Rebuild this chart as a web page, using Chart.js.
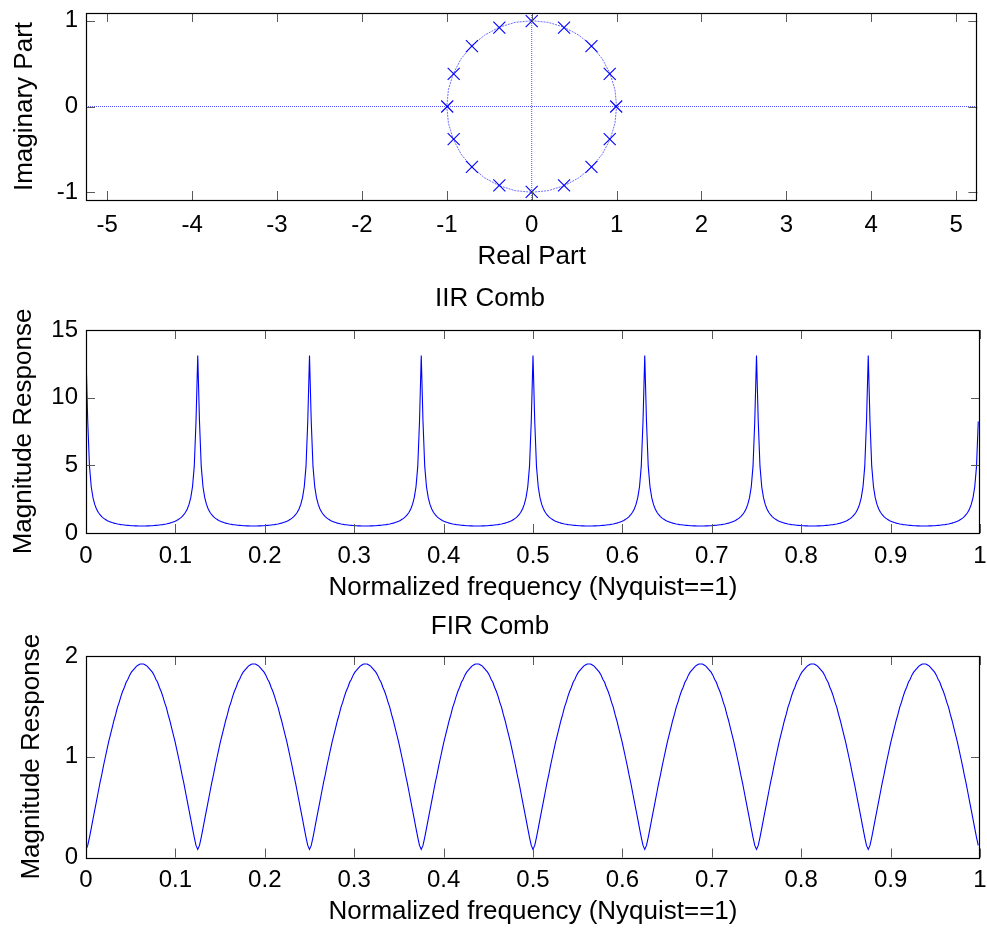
<!DOCTYPE html>
<html>
<head>
<meta charset="utf-8">
<title>Comb filters: pole-zero plot and magnitude responses</title>
<script src="https://cdn.jsdelivr.net/npm/chart.js@4.4.1/dist/chart.umd.min.js"></script>
<style>
  html, body { margin: 0; padding: 0; background: #fff; }
  #wrap { position: relative; width: 987px; height: 931px; overflow: hidden; background: #fff; }
  #wrap canvas { position: absolute; left: 0; }
</style>
</head>
<body>
<div id="wrap">
  <canvas id="pz"  width="987" height="275" style="top:0px"></canvas>
  <canvas id="iir" width="987" height="330" style="top:275px"></canvas>
  <canvas id="fir" width="987" height="326" style="top:605px"></canvas>
</div>
<script>
// ---- pole-zero plot -------------------------------------------------------
const poleRe = [0.995, 0.919, 0.704, 0.381, 0, -0.381, -0.704, -0.919,
                -0.995, -0.919, -0.704, -0.381, 0, 0.381, 0.704, 0.919];
const poleIm = [0, 0.381, 0.704, 0.919, 0.995, 0.919, 0.704, 0.381,
                0, -0.381, -0.704, -0.919, -0.995, -0.919, -0.704, -0.381];

// unit circle outline
const circleRe = [1, 0.981, 0.924, 0.831, 0.707, 0.556, 0.383, 0.195, 0, -0.195, -0.383, -0.556,
                  -0.707, -0.831, -0.924, -0.981, -1, -0.981, -0.924, -0.831, -0.707, -0.556,
                  -0.383, -0.195, 0, 0.195, 0.383, 0.556, 0.707, 0.831, 0.924, 0.981, 1];
const circleIm = [0, 0.195, 0.383, 0.556, 0.707, 0.831, 0.924, 0.981, 1, 0.981, 0.924, 0.831,
                  0.707, 0.556, 0.383, 0.195, 0, -0.195, -0.383, -0.556, -0.707, -0.831,
                  -0.924, -0.981, -1, -0.981, -0.924, -0.831, -0.707, -0.556, -0.383, -0.195, 0];

const reLimits = [-5.25, 5.25];
const imLimits = [-1.09, 1.09];
const reTicks = [-5, -4, -3, -2, -1, 0, 1, 2, 3, 4, 5];
const imTicks = [-1, 0, 1];

// ---- magnitude responses (512-point grid, 0 .. 511/512 of Nyquist) --------
const NFFT = 512;
const freqTicks = [0, 0.1, 0.2, 0.3, 0.4, 0.5, 0.6, 0.7, 0.8, 0.9, 1];
const iirTicks = [0, 5, 10, 15];
const firTicks = [0, 1, 2];

const iirMag = [
13.11,8.24,4.92,3.42,2.61,2.11,1.78,1.53,1.35,1.21,1.10,1.01,0.93,0.87,0.82,0.77,0.73,0.70,0.67,0.65,0.62,0.61,0.59,0.57,0.56,0.55,0.54,0.54,0.53,0.53,0.52,0.52,0.52,0.52,0.52,0.53,0.53,0.54,0.54,0.55,0.56,0.57,0.59,0.61,0.62,0.65,0.67,0.70,0.73,0.77,0.82,0.87,0.93,1.01,1.10,1.21,1.35,1.53,1.78,2.11,2.61,3.42,4.92,8.24,
13.11,8.24,4.92,3.42,2.61,2.11,1.78,1.53,1.35,1.21,1.10,1.01,0.93,0.87,0.82,0.77,0.73,0.70,0.67,0.65,0.62,0.61,0.59,0.57,0.56,0.55,0.54,0.54,0.53,0.53,0.52,0.52,0.52,0.52,0.52,0.53,0.53,0.54,0.54,0.55,0.56,0.57,0.59,0.61,0.62,0.65,0.67,0.70,0.73,0.77,0.82,0.87,0.93,1.01,1.10,1.21,1.35,1.53,1.78,2.11,2.61,3.42,4.92,8.24,
13.11,8.24,4.92,3.42,2.61,2.11,1.78,1.53,1.35,1.21,1.10,1.01,0.93,0.87,0.82,0.77,0.73,0.70,0.67,0.65,0.62,0.61,0.59,0.57,0.56,0.55,0.54,0.54,0.53,0.53,0.52,0.52,0.52,0.52,0.52,0.53,0.53,0.54,0.54,0.55,0.56,0.57,0.59,0.61,0.62,0.65,0.67,0.70,0.73,0.77,0.82,0.87,0.93,1.01,1.10,1.21,1.35,1.53,1.78,2.11,2.61,3.42,4.92,8.24,
13.11,8.24,4.92,3.42,2.61,2.11,1.78,1.53,1.35,1.21,1.10,1.01,0.93,0.87,0.82,0.77,0.73,0.70,0.67,0.65,0.62,0.61,0.59,0.57,0.56,0.55,0.54,0.54,0.53,0.53,0.52,0.52,0.52,0.52,0.52,0.53,0.53,0.54,0.54,0.55,0.56,0.57,0.59,0.61,0.62,0.65,0.67,0.70,0.73,0.77,0.82,0.87,0.93,1.01,1.10,1.21,1.35,1.53,1.78,2.11,2.61,3.42,4.92,8.24,
13.11,8.24,4.92,3.42,2.61,2.11,1.78,1.53,1.35,1.21,1.10,1.01,0.93,0.87,0.82,0.77,0.73,0.70,0.67,0.65,0.62,0.61,0.59,0.57,0.56,0.55,0.54,0.54,0.53,0.53,0.52,0.52,0.52,0.52,0.52,0.53,0.53,0.54,0.54,0.55,0.56,0.57,0.59,0.61,0.62,0.65,0.67,0.70,0.73,0.77,0.82,0.87,0.93,1.01,1.10,1.21,1.35,1.53,1.78,2.11,2.61,3.42,4.92,8.24,
13.11,8.24,4.92,3.42,2.61,2.11,1.78,1.53,1.35,1.21,1.10,1.01,0.93,0.87,0.82,0.77,0.73,0.70,0.67,0.65,0.62,0.61,0.59,0.57,0.56,0.55,0.54,0.54,0.53,0.53,0.52,0.52,0.52,0.52,0.52,0.53,0.53,0.54,0.54,0.55,0.56,0.57,0.59,0.61,0.62,0.65,0.67,0.70,0.73,0.77,0.82,0.87,0.93,1.01,1.10,1.21,1.35,1.53,1.78,2.11,2.61,3.42,4.92,8.24,
13.11,8.24,4.92,3.42,2.61,2.11,1.78,1.53,1.35,1.21,1.10,1.01,0.93,0.87,0.82,0.77,0.73,0.70,0.67,0.65,0.62,0.61,0.59,0.57,0.56,0.55,0.54,0.54,0.53,0.53,0.52,0.52,0.52,0.52,0.52,0.53,0.53,0.54,0.54,0.55,0.56,0.57,0.59,0.61,0.62,0.65,0.67,0.70,0.73,0.77,0.82,0.87,0.93,1.01,1.10,1.21,1.35,1.53,1.78,2.11,2.61,3.42,4.92,8.24,
13.11,8.24,4.92,3.42,2.61,2.11,1.78,1.53,1.35,1.21,1.10,1.01,0.93,0.87,0.82,0.77,0.73,0.70,0.67,0.65,0.62,0.61,0.59,0.57,0.56,0.55,0.54,0.54,0.53,0.53,0.52,0.52,0.52,0.52,0.52,0.53,0.53,0.54,0.54,0.55,0.56,0.57,0.59,0.61,0.62,0.65,0.67,0.70,0.73,0.77,0.82,0.87,0.93,1.01,1.10,1.21,1.35,1.53,1.78,2.11,2.61,3.42,4.92,8.24
];

const firMag = [
0.08,0.12,0.20,0.29,0.38,0.47,0.56,0.65,0.74,0.82,0.91,0.99,1.07,1.15,1.22,1.29,1.36,1.42,1.49,1.54,1.60,1.65,1.69,1.74,1.77,1.81,1.84,1.86,1.88,1.90,1.91,1.92,1.92,1.92,1.91,1.90,1.88,1.86,1.84,1.81,1.77,1.74,1.69,1.65,1.60,1.54,1.49,1.42,1.36,1.29,1.22,1.15,1.07,0.99,0.91,0.82,0.74,0.65,0.56,0.47,0.38,0.29,0.20,0.12,
0.08,0.12,0.20,0.29,0.38,0.47,0.56,0.65,0.74,0.82,0.91,0.99,1.07,1.15,1.22,1.29,1.36,1.42,1.49,1.54,1.60,1.65,1.69,1.74,1.77,1.81,1.84,1.86,1.88,1.90,1.91,1.92,1.92,1.92,1.91,1.90,1.88,1.86,1.84,1.81,1.77,1.74,1.69,1.65,1.60,1.54,1.49,1.42,1.36,1.29,1.22,1.15,1.07,0.99,0.91,0.82,0.74,0.65,0.56,0.47,0.38,0.29,0.20,0.12,
0.08,0.12,0.20,0.29,0.38,0.47,0.56,0.65,0.74,0.82,0.91,0.99,1.07,1.15,1.22,1.29,1.36,1.42,1.49,1.54,1.60,1.65,1.69,1.74,1.77,1.81,1.84,1.86,1.88,1.90,1.91,1.92,1.92,1.92,1.91,1.90,1.88,1.86,1.84,1.81,1.77,1.74,1.69,1.65,1.60,1.54,1.49,1.42,1.36,1.29,1.22,1.15,1.07,0.99,0.91,0.82,0.74,0.65,0.56,0.47,0.38,0.29,0.20,0.12,
0.08,0.12,0.20,0.29,0.38,0.47,0.56,0.65,0.74,0.82,0.91,0.99,1.07,1.15,1.22,1.29,1.36,1.42,1.49,1.54,1.60,1.65,1.69,1.74,1.77,1.81,1.84,1.86,1.88,1.90,1.91,1.92,1.92,1.92,1.91,1.90,1.88,1.86,1.84,1.81,1.77,1.74,1.69,1.65,1.60,1.54,1.49,1.42,1.36,1.29,1.22,1.15,1.07,0.99,0.91,0.82,0.74,0.65,0.56,0.47,0.38,0.29,0.20,0.12,
0.08,0.12,0.20,0.29,0.38,0.47,0.56,0.65,0.74,0.82,0.91,0.99,1.07,1.15,1.22,1.29,1.36,1.42,1.49,1.54,1.60,1.65,1.69,1.74,1.77,1.81,1.84,1.86,1.88,1.90,1.91,1.92,1.92,1.92,1.91,1.90,1.88,1.86,1.84,1.81,1.77,1.74,1.69,1.65,1.60,1.54,1.49,1.42,1.36,1.29,1.22,1.15,1.07,0.99,0.91,0.82,0.74,0.65,0.56,0.47,0.38,0.29,0.20,0.12,
0.08,0.12,0.20,0.29,0.38,0.47,0.56,0.65,0.74,0.82,0.91,0.99,1.07,1.15,1.22,1.29,1.36,1.42,1.49,1.54,1.60,1.65,1.69,1.74,1.77,1.81,1.84,1.86,1.88,1.90,1.91,1.92,1.92,1.92,1.91,1.90,1.88,1.86,1.84,1.81,1.77,1.74,1.69,1.65,1.60,1.54,1.49,1.42,1.36,1.29,1.22,1.15,1.07,0.99,0.91,0.82,0.74,0.65,0.56,0.47,0.38,0.29,0.20,0.12,
0.08,0.12,0.20,0.29,0.38,0.47,0.56,0.65,0.74,0.82,0.91,0.99,1.07,1.15,1.22,1.29,1.36,1.42,1.49,1.54,1.60,1.65,1.69,1.74,1.77,1.81,1.84,1.86,1.88,1.90,1.91,1.92,1.92,1.92,1.91,1.90,1.88,1.86,1.84,1.81,1.77,1.74,1.69,1.65,1.60,1.54,1.49,1.42,1.36,1.29,1.22,1.15,1.07,0.99,0.91,0.82,0.74,0.65,0.56,0.47,0.38,0.29,0.20,0.12,
0.08,0.12,0.20,0.29,0.38,0.47,0.56,0.65,0.74,0.82,0.91,0.99,1.07,1.15,1.22,1.29,1.36,1.42,1.49,1.54,1.60,1.65,1.69,1.74,1.77,1.81,1.84,1.86,1.88,1.90,1.91,1.92,1.92,1.92,1.91,1.90,1.88,1.86,1.84,1.81,1.77,1.74,1.69,1.65,1.60,1.54,1.49,1.42,1.36,1.29,1.22,1.15,1.07,0.99,0.91,0.82,0.74,0.65,0.56,0.47,0.38,0.29,0.20,0.12
];

// ---- shared styling -------------------------------------------------------
const FONT_FAMILY = "'Liberation Sans', Arial, Helvetica, sans-serif";
const tickFont = { family: FONT_FAMILY, size: 24, weight: 'normal' };
const labelFont = { family: FONT_FAMILY, size: 26, weight: 'normal' };
const TICK_LH = tickFont.size * 1.2;
const LABEL_LH = labelFont.size * 1.2;
const BLUE = '#0000ff';
const Y_AXIS_WIDTH = 86;

Chart.defaults.color = '#000';
Chart.defaults.font.family = FONT_FAMILY;

// frame around the plot area with inward tick marks on all four sides
const frameTicks = {
  id: 'frameTicks',
  afterDraw(chart) {
    const { ctx, chartArea: a, scales: { x, y } } = chart;
    const L = 9;
    ctx.save();
    ctx.strokeStyle = '#5a5a5a';
    ctx.lineWidth = 1;
    ctx.beginPath();
    x.ticks.forEach(t => {
      const px = Math.round(x.getPixelForValue(t.value)) + 0.5;
      ctx.moveTo(px, a.bottom); ctx.lineTo(px, a.bottom - L);
      ctx.moveTo(px, a.top);    ctx.lineTo(px, a.top + L);
    });
    y.ticks.forEach(t => {
      const py = Math.round(y.getPixelForValue(t.value)) + 0.5;
      ctx.moveTo(a.left, py);  ctx.lineTo(a.left + L, py);
      ctx.moveTo(a.right, py); ctx.lineTo(a.right - L, py);
    });
    ctx.stroke();
    ctx.strokeStyle = '#000';
    ctx.lineWidth = 1.2;
    ctx.strokeRect(Math.round(a.left) + 0.5, Math.round(a.top) + 0.5,
                   Math.round(a.right - a.left) - 1, Math.round(a.bottom - a.top));
    ctx.restore();
  }
};

// x axis: fixed height, tick-label centre and title centre given relative to the canvas
function xAxis(min, max, ticks, title, height, tickGap, titleGapBottom) {
  return {
    type: 'linear', position: 'bottom', min, max,
    grid: { display: false, drawTicks: false },
    border: { display: false },
    ticks: { autoSkip: false, maxRotation: 0, minRotation: 0, padding: tickGap,
             font: tickFont, color: '#000', callback: v => String(v) },
    afterBuildTicks: s => { s.ticks = ticks.map(v => ({ value: v })); },
    afterFit: s => { s.height = height; s.paddingLeft = 0; s.paddingRight = 0; },
    title: { display: true, text: title, font: labelFont, color: '#000',
             padding: { top: 0, bottom: titleGapBottom } }
  };
}

function yAxis(min, max, ticks, title, titleCenterX) {
  return {
    type: 'linear', position: 'left', min, max,
    grid: { display: false, drawTicks: false },
    border: { display: false },
    ticks: { autoSkip: false, padding: 8, font: tickFont, color: '#000',
             callback: v => String(v) },
    afterBuildTicks: s => { s.ticks = ticks.map(v => ({ value: v })); },
    afterFit: s => { s.width = Y_AXIS_WIDTH; s.paddingTop = 0; s.paddingBottom = 0; },
    title: { display: true, text: title, font: labelFont, color: '#000',
             padding: { top: titleCenterX - LABEL_LH / 2, bottom: 0 } }
  };
}

// subplot title block: text centre and plot-area top, both measured from the canvas top
function plotTitle(text, centerY, plotTop) {
  return { display: true, text, font: labelFont, color: '#000',
           padding: { top: centerY - LABEL_LH / 2, bottom: plotTop - centerY - LABEL_LH / 2 } };
}

const baseOptions = {
  responsive: false,
  devicePixelRatio: 1,
  animation: false,
  events: []
};

const pts = (xs, ys) => xs.map((v, i) => ({ x: v, y: ys[i] }));
const freq = iirMag.map((_, i) => i / NFFT);

// ---- pole-zero plot (canvas 0..275) -------------------------------------
new Chart(document.getElementById('pz'), {
  type: 'scatter',
  data: {
    datasets: [
      { // poles
        data: pts(poleRe, poleIm), showLine: false,
        pointStyle: 'crossRot', pointRadius: 8.5, pointBorderWidth: 1.1,
        pointBorderColor: BLUE, pointBackgroundColor: BLUE, clip: false
      },
      { // unit circle
        data: pts(circleRe, circleIm), showLine: true, pointRadius: 0,
        borderColor: 'rgba(60,60,255,0.75)', borderWidth: 1, borderDash: [2, 1]
      },
      { // real axis
        data: pts(reLimits, [0, 0]), showLine: true, pointRadius: 0,
        borderColor: 'rgba(40,40,255,0.8)', borderWidth: 1, borderDash: [1, 1]
      },
      { // imaginary axis
        data: pts([0, 0], imLimits), showLine: true, pointRadius: 0,
        borderColor: 'rgba(40,40,255,0.8)', borderWidth: 1, borderDash: [1, 1]
      }
    ]
  },
  options: Object.assign({}, baseOptions, {
    layout: { padding: { left: 0, right: 7, top: 13, bottom: 0 } },
    plugins: { legend: { display: false }, tooltip: { enabled: false } },
    scales: {
      x: xAxis(reLimits[0], reLimits[1], reTicks, 'Real Part',
               75, 225 - 200 - TICK_LH / 2, 275 - 257 - LABEL_LH / 2),
      y: yAxis(imLimits[0], imLimits[1], imTicks, 'Imaginary Part', 25)
    }
  }),
  plugins: [frameTicks]
});

// ---- IIR comb magnitude (canvas 275..605) -------------------------------
new Chart(document.getElementById('iir'), {
  type: 'scatter',
  data: {
    datasets: [{
      data: pts(freq, iirMag), showLine: true, pointRadius: 0,
      borderColor: BLUE, borderWidth: 1.1, tension: 0
    }]
  },
  options: Object.assign({}, baseOptions, {
    layout: { padding: { left: 0, right: 7, top: 0, bottom: 0 } },
    plugins: {
      legend: { display: false }, tooltip: { enabled: false },
      title: plotTitle('IIR Comb', 24, 55)
    },
    scales: {
      x: xAxis(0, 1, freqTicks, 'Normalized frequency (Nyquist==1)',
               72, 281 - 258 - TICK_LH / 2, 330 - 313 - LABEL_LH / 2),
      y: yAxis(0, 15, iirTicks, 'Magnitude Response', 24)
    }
  }),
  plugins: [frameTicks]
});

// ---- FIR comb magnitude (canvas 605..931) -------------------------------
new Chart(document.getElementById('fir'), {
  type: 'scatter',
  data: {
    datasets: [{
      data: pts(freq, firMag), showLine: true, pointRadius: 0,
      borderColor: BLUE, borderWidth: 1.1, tension: 0
    }]
  },
  options: Object.assign({}, baseOptions, {
    layout: { padding: { left: 0, right: 7, top: 0, bottom: 0 } },
    plugins: {
      legend: { display: false }, tooltip: { enabled: false },
      title: plotTitle('FIR Comb', 22, 51)
    },
    scales: {
      x: xAxis(0, 1, freqTicks, 'Normalized frequency (Nyquist==1)',
               73.5, 275 - 252.5 - TICK_LH / 2, 326 - 307 - LABEL_LH / 2),
      y: yAxis(0, 2, firTicks, 'Magnitude Response', 32)
    }
  }),
  plugins: [frameTicks]
});
</script>
</body>
</html>
